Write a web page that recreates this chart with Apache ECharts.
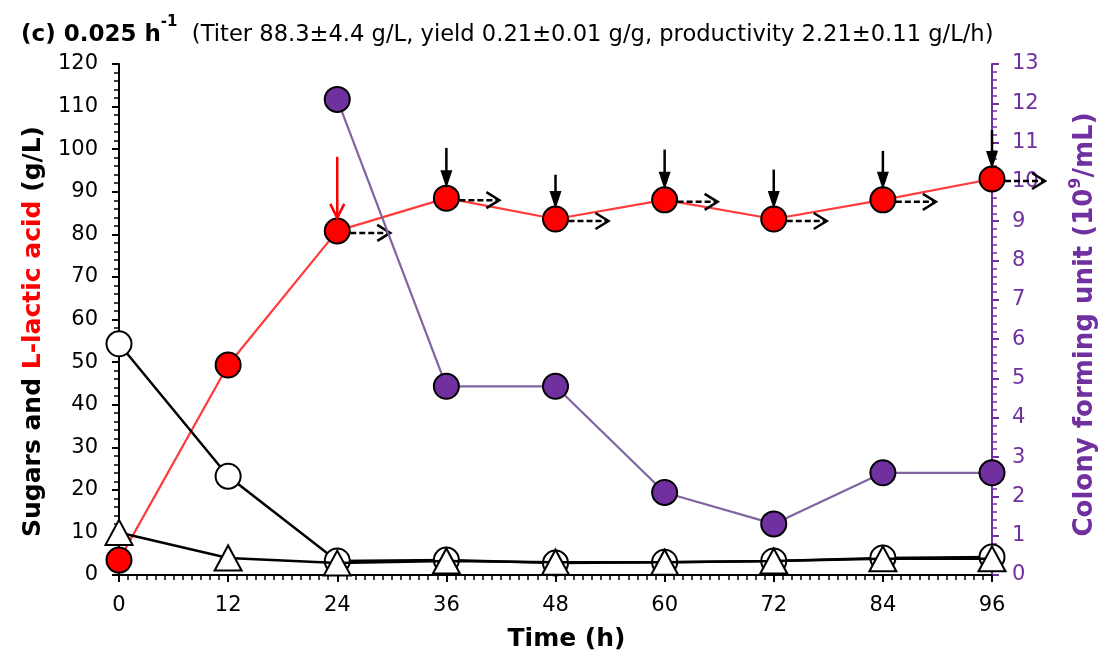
<!DOCTYPE html>
<html>
<head>
<meta charset="utf-8">
<script src="https://cdn.jsdelivr.net/npm/echarts@6/dist/echarts.min.js"></script>
<style>html,body{margin:0;padding:0;background:#fff;overflow:hidden;width:1100px;height:655px;}#chart{width:1100px;height:655px;display:block;}</style>
</head>
<body>
<div id="chart"></div>
<script>
const times = [0, 12, 24, 36, 48, 60, 72, 84, 96];
const lacticAcid = [3.5, 49.3, 80.8, 88.5, 83.6, 88.1, 83.6, 88.1, 93.0];
const sugarCircle = [54.3, 23.2, 3.3, 3.5, 2.8, 3.0, 3.3, 4.0, 4.2];
const sugarTriangle = [10.0, 4.0, 2.8, 3.3, 3.0, 3.0, 3.3, 3.8, 3.8];
const cfuTimes = [24, 36, 48, 60, 72, 84, 96];
const cfu = [12.1, 4.8, 4.8, 2.1, 1.3, 2.6, 2.6];
const feedTimes = [24, 36, 48, 60, 72, 84, 96];
const feedLevels = [80.8, 88.5, 83.6, 88.1, 83.6, 88.1, 93.0];
const feedArrowTops = [98.2, 100.3, 94.0, 99.9, 95.2, 99.6, 104.5];
const xTicks = [0, 12, 24, 36, 48, 60, 72, 84, 96];

const FONT = '"DejaVu Sans", "Liberation Sans", Arial, sans-serif';
const PURPLE = '#7030A0';

const pair = (xs, ys) => xs.map((x, i) => [x, ys[i]]);

const arrowData = feedTimes.map((t, i) => [t, feedLevels[i], feedArrowTops[i], i === 0 ? 1 : 0]);

function renderArrows(params, api) {
  const t = api.value(0), v = api.value(1), top = api.value(2), isRed = api.value(3) === 1;
  const p = api.coord([t, v]);
  const pt = api.coord([t, top]);
  const col = isRed ? '#FF0000' : '#000000';
  const r = 12;
  const tipY = p[1] - r;
  const children = [];
  if (isRed) {
    children.push(
      { type: 'line', shape: { x1: p[0], y1: pt[1], x2: p[0], y2: tipY - 1 }, style: { stroke: col, lineWidth: 2.5 } },
      { type: 'polyline', shape: { points: [[p[0] - 7, tipY - 15], [p[0], tipY - 1], [p[0] + 7, tipY - 15]] }, style: { stroke: col, lineWidth: 2.5, fill: null } }
    );
  } else {
    children.push(
      { type: 'line', shape: { x1: p[0], y1: pt[1], x2: p[0], y2: tipY - 10 }, style: { stroke: col, lineWidth: 2.5 } },
      { type: 'polygon', shape: { points: [[p[0] - 6, tipY - 16], [p[0] + 6, tipY - 16], [p[0], tipY + 2]] }, style: { fill: col } }
    );
  }
  const hy = p[1] + 2;
  const x0 = p[0] + r + 1, x1 = p[0] + 53;
  children.push(
    { type: 'line', shape: { x1: x0, y1: hy, x2: x1 - 2, y2: hy }, style: { stroke: '#000', lineWidth: 2.5, lineDash: [6, 3] } },
    { type: 'polyline', shape: { points: [[x1 - 13, hy - 8], [x1, hy], [x1 - 13, hy + 8]] }, style: { stroke: '#000', lineWidth: 2.5, fill: null } }
  );
  return { type: 'group', children: children };
}

const chart = echarts.init(document.getElementById('chart'), null, { renderer: 'canvas', width: 1100, height: 655 });
chart.setOption({
  animation: false,
  backgroundColor: '#fff',
  textStyle: { fontFamily: FONT },
  title: {
    left: 16, top: 10,
    text: '{b|(c) 0.025 h}{sup|-1}{n|  (Titer 88.3\u00B14.4 g/L, yield 0.21\u00B10.01 g/g, productivity 2.21\u00B10.11 g/L/h)}',
    textStyle: {
      fontFamily: FONT, fontWeight: 'normal',
      rich: {
        b: { fontFamily: FONT, fontSize: 23, fontWeight: 'bold', color: '#000', lineHeight: 32, verticalAlign: 'bottom' },
        sup: { fontFamily: FONT, fontSize: 15, fontWeight: 'bold', color: '#000', lineHeight: 32, verticalAlign: 'top', padding: [0, 0, 12, 0] },
        n: { fontFamily: FONT, fontSize: 22.6, fontWeight: 'normal', color: '#000', lineHeight: 32, verticalAlign: 'bottom' }
      }
    }
  },
  grid: { left: 119, right: 108, top: 64, bottom: 80, containLabel: false, outerBoundsMode: 'none' },
  xAxis: {
    type: 'value', min: 0, max: 96, interval: 12,
    name: 'Time (h)', nameLocation: 'middle', nameGap: 52,
    nameTextStyle: { fontFamily: FONT, fontSize: 25, fontWeight: 'bold', color: '#000', padding: [0, 0, 0, 22] },
    axisLine: { lineStyle: { color: '#000', width: 2 } },
    axisTick: { length: 7, lineStyle: { color: '#000', width: 2 } },
    minorTick: { show: true, splitNumber: 12, length: 5, lineStyle: { color: '#000', width: 1.5 } },
    axisLabel: { fontFamily: FONT, fontSize: 21, color: '#000', margin: 20, formatter: v => xTicks.includes(v) ? String(v) : '' },
    splitLine: { show: false }
  },
  yAxis: [
    {
      type: 'value', min: 0, max: 120, interval: 10, position: 'left',
      name: '{k|Sugars and }{r|L-lactic acid}{k| (g/L)}', nameLocation: 'middle', nameGap: 73, nameRotate: 90,
      nameTextStyle: {
        padding: [0, 24, 0, 0],
        rich: {
          k: { fontFamily: FONT, fontSize: 25, fontWeight: 'bold', color: '#000' },
          r: { fontFamily: FONT, fontSize: 25, fontWeight: 'bold', color: '#FF0000' }
        }
      },
      axisLine: { show: true, lineStyle: { color: '#000', width: 2 } },
      axisTick: { show: true, length: 7, lineStyle: { color: '#000', width: 2 } },
      minorTick: { show: true, splitNumber: 5, length: 5, lineStyle: { color: '#000', width: 1.5 } },
      axisLabel: { fontFamily: FONT, fontSize: 21, color: '#000', margin: 21 },
      splitLine: { show: false }
    },
    {
      type: 'value', min: 0, max: 13, interval: 1, position: 'right',
      name: '{k|Colony forming unit (10}{s|9}{k|/mL)}', nameLocation: 'middle', nameGap: 76, nameRotate: 90,
      nameTextStyle: {
        padding: [0, 10, 0, 0],
        rich: {
          k: { fontFamily: FONT, fontSize: 26, fontWeight: 'bold', color: PURPLE, lineHeight: 30, verticalAlign: 'bottom' },
          s: { fontFamily: FONT, fontSize: 16, fontWeight: 'bold', color: PURPLE, lineHeight: 30, verticalAlign: 'top', padding: [0, 0, 12, 0] }
        }
      },
      axisLine: { show: true, lineStyle: { color: PURPLE, width: 2 } },
      axisTick: { show: true, length: 7, lineStyle: { color: PURPLE, width: 2 } },
      minorTick: { show: true, splitNumber: 5, length: 5, lineStyle: { color: PURPLE, width: 1.5 } },
      axisLabel: { fontFamily: FONT, fontSize: 21, color: PURPLE, margin: 20 },
      splitLine: { show: false }
    }
  ],
  series: [
    {
      name: 'L-lactic acid', type: 'line', yAxisIndex: 0, data: pair(times, lacticAcid),
      symbol: 'circle', symbolSize: 25, z: 3,
      lineStyle: { color: '#FF3B3B', width: 2.2 },
      itemStyle: { color: '#FF0000', borderColor: '#000', borderWidth: 2 }
    },
    {
      name: 'Sugar (circle)', type: 'line', yAxisIndex: 0, data: pair(times, sugarCircle),
      symbol: 'circle', symbolSize: 25, z: 3,
      lineStyle: { color: '#000', width: 2.5 },
      itemStyle: { color: '#fff', borderColor: '#000', borderWidth: 2 }
    },
    {
      name: 'Sugar (triangle)', type: 'line', yAxisIndex: 0, data: pair(times, sugarTriangle),
      symbol: 'triangle', symbolSize: [27, 25], z: 4,
      lineStyle: { color: '#000', width: 2.5 },
      itemStyle: { color: '#fff', borderColor: '#000', borderWidth: 2 }
    },
    {
      name: 'Arrows', type: 'custom', yAxisIndex: 0, data: arrowData, z: 5,
      renderItem: renderArrows, silent: true, clip: false
    },
    {
      name: 'CFU', type: 'line', yAxisIndex: 1, data: pair(cfuTimes, cfu),
      symbol: 'circle', symbolSize: 25, z: 6,
      lineStyle: { color: '#8064A2', width: 2.2 },
      itemStyle: { color: PURPLE, borderColor: '#000', borderWidth: 2 }
    }
  ]
});
</script>
</body>
</html>
